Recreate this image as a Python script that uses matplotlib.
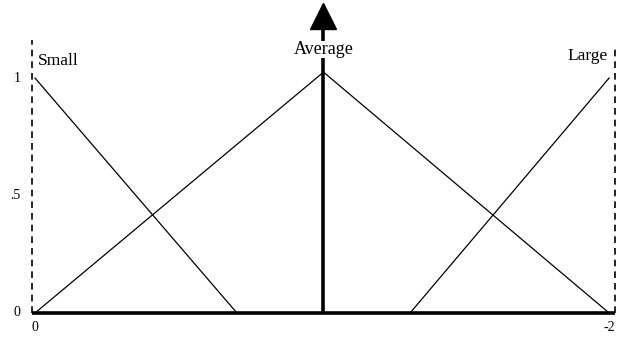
import matplotlib as mpl
mpl.use("Agg")
import matplotlib.pyplot as plt

# membership functions (x from 0 to 2, degree 0..1)
small_x = [0, 0.70]
small_y = [1, 0]
avg_x = [0, 1.0, 1.99]
avg_y = [0, 1.025, 0]
large_x = [1.30, 1.99]
large_y = [0, 1]

ytick_pos = [1, 0.5, 0]
ytick_lab = ['1', '.5', '0']
xtick_pos = [0, 1.99]
xtick_lab = ['0', '-2']

plt.rcParams['font.family'] = ['Liberation Serif', 'DejaVu Serif']

fig = plt.figure(figsize=(6.27, 3.38), dpi=100)
ax = fig.add_axes([0, 0, 1, 1])
ax.set_xlim(-0.1213, 2.052)
ax.set_ylim(-0.1064, 1.332)
ax.axis('off')

ax.plot(small_x, small_y, color='black', lw=0.9)
ax.plot(avg_x, avg_y, color='black', lw=0.9)
ax.plot(large_x, large_y, color='black', lw=0.9)

# frame: dashed sides, thick base, centre arrow
ax.plot([-0.01, -0.01], [0, 1.16], color='black', lw=1.2, ls=(0, (4, 3)))
ax.plot([2.01, 2.01], [0, 1.14], color='black', lw=1.2, ls=(0, (4, 3)))
ax.plot([-0.01, 2.01], [0, 0], color='black', lw=2.6, solid_capstyle='butt')
ax.plot([1.0, 1.0], [0, 1.24], color='black', lw=2.6, solid_capstyle='butt')
ax.plot([1.0], [1.262], marker='^', markersize=19, color='black')

ax.text(1.0, 1.085, 'Average', ha='center', va='bottom', fontsize=13,
        bbox=dict(facecolor='white', edgecolor='none', pad=0.3), zorder=5)
ax.text(0.01, 1.04, 'Small', ha='left', va='bottom', fontsize=12.5)
ax.text(1.985, 1.06, 'Large', ha='right', va='bottom', fontsize=12.5)

for p, s in zip(ytick_pos, ytick_lab):
    ax.text(-0.05, p, s, ha='right', va='center', fontsize=10)
for p, s in zip(xtick_pos, xtick_lab):
    ax.text(p, -0.035, s, ha='center', va='top', fontsize=10)

fig.savefig('out.png', dpi=100)
